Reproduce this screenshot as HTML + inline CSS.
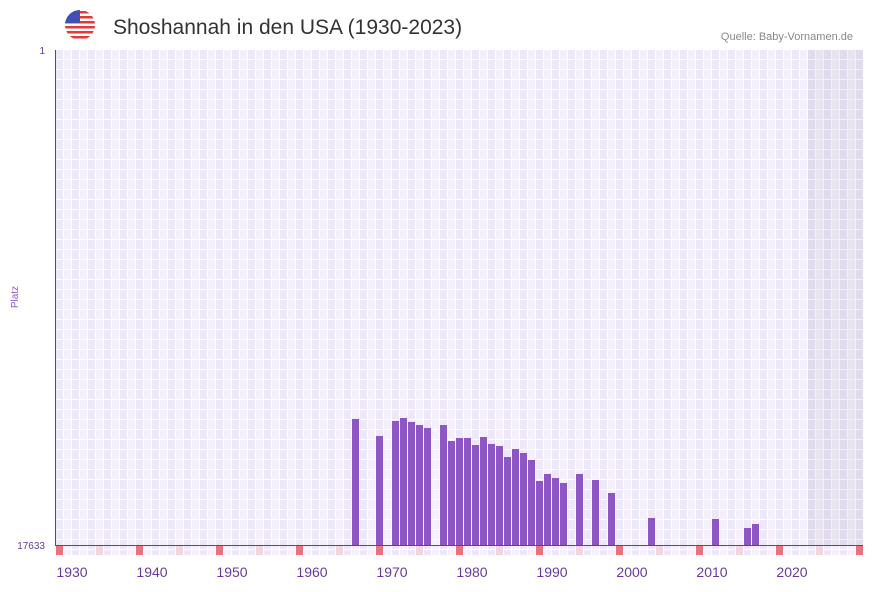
<!DOCTYPE html>
<html><head><meta charset="utf-8"><style>
body{margin:0;background:#fff;width:873px;height:587px;overflow:hidden;font-family:"Liberation Sans",sans-serif}
</style></head><body>
<svg width="873" height="587" xmlns="http://www.w3.org/2000/svg">
<defs>
<pattern id="g" x="56" y="50" width="16" height="10" patternUnits="userSpaceOnUse">
<rect x="0" y="0" width="16" height="10" fill="#fff"/>
<rect x="0" y="0" width="7" height="9" fill="#EDE8F9"/>
<rect x="8" y="0" width="7" height="9" fill="#F3F0FC"/>
</pattern>
</defs>
<circle cx="80" cy="25" r="15" fill="#fff"/>
<g>
<clipPath id="c"><circle cx="80" cy="25" r="15"/></clipPath>
<g clip-path="url(#c)">
<rect x="65" y="10" width="30" height="30" fill="#fff"/>
<rect x="65" y="11" width="30" height="2.5" fill="#e53935"/>
<rect x="65" y="16" width="30" height="2.5" fill="#e53935"/>
<rect x="65" y="21" width="30" height="2.5" fill="#e53935"/>
<rect x="65" y="26" width="30" height="2.5" fill="#e53935"/>
<rect x="65" y="31" width="30" height="2.5" fill="#e53935"/>
<rect x="65" y="36" width="30" height="2.5" fill="#e53935"/>
<rect x="65" y="10" width="15" height="13" fill="#3f51b5"/>
</g></g>
<text x="113" y="34" font-size="21" fill="#333" font-family="'Liberation Sans',sans-serif">Shoshannah in den USA (1930-2023)</text>
<text x="853" y="40" font-size="11" fill="#888" text-anchor="end">Quelle: Baby-Vornamen.de</text>
<rect x="56" y="50" width="807" height="495" fill="url(#g)"/>
<rect x="808" y="50" width="55" height="495" fill="rgba(90,80,110,0.08)"/>
<g fill="#8E55C7">
<rect x="352" y="419" width="7" height="126"/>
<rect x="376" y="436" width="7" height="109"/>
<rect x="392" y="421" width="7" height="124"/>
<rect x="400" y="418" width="7" height="127"/>
<rect x="408" y="422" width="7" height="123"/>
<rect x="416" y="425" width="7" height="120"/>
<rect x="424" y="428" width="7" height="117"/>
<rect x="440" y="425" width="7" height="120"/>
<rect x="448" y="441" width="7" height="104"/>
<rect x="456" y="438" width="7" height="107"/>
<rect x="464" y="438" width="7" height="107"/>
<rect x="472" y="445" width="7" height="100"/>
<rect x="480" y="437" width="7" height="108"/>
<rect x="488" y="444" width="7" height="101"/>
<rect x="496" y="446" width="7" height="99"/>
<rect x="504" y="457" width="7" height="88"/>
<rect x="512" y="449" width="7" height="96"/>
<rect x="520" y="453" width="7" height="92"/>
<rect x="528" y="460" width="7" height="85"/>
<rect x="536" y="481" width="7" height="64"/>
<rect x="544" y="474" width="7" height="71"/>
<rect x="552" y="478" width="7" height="67"/>
<rect x="560" y="483" width="7" height="62"/>
<rect x="576" y="474" width="7" height="71"/>
<rect x="592" y="480" width="7" height="65"/>
<rect x="608" y="493" width="7" height="52"/>
<rect x="648" y="518" width="7" height="27"/>
<rect x="712" y="519" width="7" height="26"/>
<rect x="744" y="528" width="7" height="17"/>
<rect x="752" y="524" width="7" height="21"/>
</g>
<rect x="56" y="546" width="807" height="9" fill="url(#g)"/>
<g fill="#E8737A">
<rect x="56" y="546" width="7" height="9"/><rect x="136" y="546" width="7" height="9"/><rect x="216" y="546" width="7" height="9"/><rect x="296" y="546" width="7" height="9"/><rect x="376" y="546" width="7" height="9"/><rect x="456" y="546" width="7" height="9"/><rect x="536" y="546" width="7" height="9"/><rect x="616" y="546" width="7" height="9"/><rect x="696" y="546" width="7" height="9"/><rect x="776" y="546" width="7" height="9"/><rect x="856" y="546" width="7" height="9"/>
</g>
<g fill="#F2D5E0">
<rect x="96" y="546" width="7" height="9"/><rect x="176" y="546" width="7" height="9"/><rect x="256" y="546" width="7" height="9"/><rect x="336" y="546" width="7" height="9"/><rect x="416" y="546" width="7" height="9"/><rect x="496" y="546" width="7" height="9"/><rect x="576" y="546" width="7" height="9"/><rect x="656" y="546" width="7" height="9"/><rect x="736" y="546" width="7" height="9"/><rect x="816" y="546" width="7" height="9"/>
</g>
<line x1="55.5" y1="50" x2="55.5" y2="546" stroke="#6A3A9A" stroke-width="1"/>
<line x1="55" y1="545.5" x2="863" y2="545.5" stroke="#6A3A9A" stroke-width="1"/>
<text x="45" y="54" font-size="10" fill="#6A3A9A" text-anchor="end">1</text>
<text x="45" y="549" font-size="10" fill="#6A3A9A" text-anchor="end">17633</text>
<text x="18" y="297" font-size="10" fill="#8E55C7" text-anchor="middle" transform="rotate(-90 18 297)">Platz</text>
<g font-size="14" fill="#6A3A9A" text-anchor="middle">
<text x="72" y="577">1930</text><text x="152" y="577">1940</text><text x="232" y="577">1950</text><text x="312" y="577">1960</text><text x="392" y="577">1970</text><text x="472" y="577">1980</text><text x="552" y="577">1990</text><text x="632" y="577">2000</text><text x="712" y="577">2010</text><text x="792" y="577">2020</text>
</g>
</svg>
</body></html>
